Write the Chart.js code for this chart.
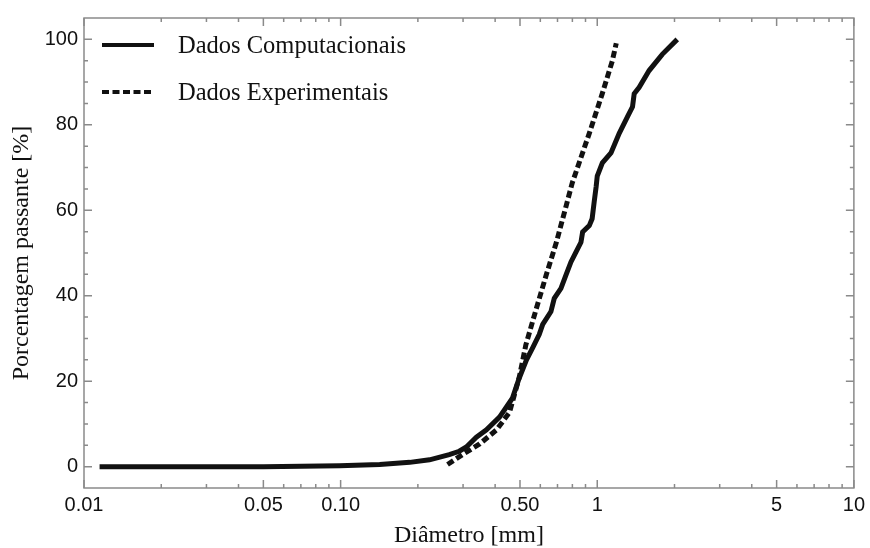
<!DOCTYPE html>
<html>
<head>
<meta charset="utf-8">
<script src="https://cdn.jsdelivr.net/npm/chart.js@4.4.1/dist/chart.umd.min.js"></script>
<style>
    html, body { margin: 0; padding: 0; background: #fff; }
    .chartContainer { width: 870px; height: 548px; }
</style>
</head>
<body>
<div class="chartContainer"><canvas id="myChart"></canvas></div>
<script>
// Dados (diâmetro em mm, % passante)
const compDiametro = [0.0115, 0.05, 0.099, 0.142, 0.186, 0.222, 0.265, 0.29, 0.309, 0.338, 0.37, 0.416, 0.467, 0.495, 0.53, 0.56, 0.594, 0.613, 0.66, 0.68, 0.722, 0.755, 0.79, 0.826, 0.864, 0.877, 0.931, 0.955, 0.973, 0.99, 1.0, 1.047, 1.131, 1.218, 1.312, 1.372, 1.393, 1.457, 1.593, 1.792, 2.05];
const compPassante = [0, 0, 0.2, 0.5, 1.0, 1.6, 2.8, 3.6, 4.6, 6.9, 8.6, 11.6, 16, 20.5, 25, 27.8, 30.9, 33.3, 36.3, 39.4, 41.7, 44.8, 47.9, 50.2, 52.5, 54.9, 56.4, 58, 62, 65.5, 68, 71.1, 73.4, 78, 81.9, 84.2, 87.3, 88.8, 92.7, 96.5, 100];

const expDiametro = [0.261, 0.298, 0.348, 0.405, 0.455, 0.497, 0.527, 0.579, 0.633, 0.693, 0.757, 0.799, 0.931, 1.046, 1.144, 1.186];
const expPassante = [0.5, 2.8, 5.3, 8.6, 12.7, 21, 28.5, 37, 44.9, 52.5, 61.1, 66.4, 78, 87.3, 94.9, 99.1];

const xTickValues = [0.01, 0.05, 0.1, 0.5, 1, 5, 10];
const xTickLabels = ['0.01', '0.05', '0.10', '0.50', '1', '5', '10'];
const xMinorTicks = [0.02, 0.03, 0.04, 0.06, 0.07, 0.08, 0.09, 0.2, 0.3, 0.4, 0.6, 0.7, 0.8, 0.9, 2, 3, 4, 6, 7, 8, 9];
const yTickValues = [0, 20, 40, 60, 80, 100];
const yMinorTicks = [5, 10, 15, 25, 30, 35, 45, 50, 55, 65, 70, 75, 85, 90, 95];

const toPoints = (xs, ys) => xs.map((x, i) => ({ x: x, y: ys[i] }));

// moldura + marcas internas dos eixos
const framePlugin = {
    id: 'frame',
    beforeDatasetsDraw(chart) {
        const { ctx, chartArea: a, scales: { x, y } } = chart;
        ctx.save();
        ctx.strokeStyle = '#8a8a8a';
        ctx.lineWidth = 1.5;
        ctx.strokeRect(a.left, a.top, a.right - a.left, a.bottom - a.top);
        ctx.beginPath();
        const xt = (v, len) => {
            const px = x.getPixelForValue(v);
            ctx.moveTo(px, a.bottom); ctx.lineTo(px, a.bottom - len);
            ctx.moveTo(px, a.top); ctx.lineTo(px, a.top + len);
        };
        const yt = (v, len) => {
            const py = y.getPixelForValue(v);
            ctx.moveTo(a.left, py); ctx.lineTo(a.left + len, py);
            ctx.moveTo(a.right, py); ctx.lineTo(a.right - len, py);
        };
        xTickValues.forEach(v => xt(v, 8));
        xMinorTicks.forEach(v => xt(v, 4));
        yTickValues.forEach(v => yt(v, 8));
        yMinorTicks.forEach(v => yt(v, 4));
        ctx.stroke();
        ctx.restore();
    }
};

// legenda dentro da área do gráfico
const legendPlugin = {
    id: 'innerLegend',
    afterDatasetsDraw(chart) {
        const { ctx, chartArea: a } = chart;
        ctx.save();
        ctx.font = '24.5px "Liberation Serif", "Times New Roman", serif';
        ctx.fillStyle = '#111';
        ctx.textBaseline = 'alphabetic';
        chart.data.datasets.forEach((ds, i) => {
            const lineY = a.top + 27 + i * 47;
            ctx.beginPath();
            ctx.lineWidth = 4;
            ctx.strokeStyle = '#111';
            ctx.setLineDash(ds.borderDash || []);
            ctx.moveTo(a.left + 18, lineY);
            ctx.lineTo(a.left + 70, lineY);
            ctx.stroke();
            ctx.setLineDash([]);
            ctx.fillText(ds.label, a.left + 94, lineY + 8);
        });
        ctx.restore();
    }
};

const ctx = document.getElementById('myChart').getContext('2d');
new Chart(ctx, {
    type: 'line',
    data: {
        datasets: [{
            label: 'Dados Computacionais',
            data: toPoints(compDiametro, compPassante),
            borderColor: '#111',
            borderWidth: 5,
            pointRadius: 0,
            tension: 0,
            fill: false
        }, {
            label: 'Dados Experimentais',
            data: toPoints(expDiametro, expPassante),
            borderColor: '#111',
            borderWidth: 5,
            borderDash: [7, 3.5],
            borderCapStyle: 'butt',
            pointRadius: 0,
            tension: 0,
            fill: false
        }]
    },
    options: {
        responsive: true,
        maintainAspectRatio: false,
        animation: false,
        layout: { padding: { top: 13, right: 16, left: 0, bottom: 0 } },
        plugins: {
            legend: { display: false },
            tooltip: { enabled: false }
        },
        scales: {
            x: {
                type: 'logarithmic',
                min: 0.01,
                max: 10,
                grid: { display: false, drawTicks: false },
                border: { display: false },
                afterBuildTicks: scale => { scale.ticks = xTickValues.map(v => ({ value: v })); },
                afterFit: scale => { scale.height = 60; },
                ticks: {
                    autoSkip: false,
                    maxRotation: 0,
                    padding: 5,
                    color: '#111',
                    font: { family: '"Liberation Sans", Arial, sans-serif', size: 20 },
                    callback: (value, index) => xTickLabels[index]
                },
                title: {
                    display: true,
                    text: 'Diâmetro [mm]',
                    color: '#111',
                    font: { family: '"Liberation Serif", "Times New Roman", serif', size: 24, lineHeight: 1 },
                    padding: { top: 0, bottom: 0 }
                }
            },
            y: {
                type: 'linear',
                min: -5,
                max: 105,
                grid: { display: false, drawTicks: false },
                border: { display: false },
                afterBuildTicks: scale => { scale.ticks = yTickValues.map(v => ({ value: v })); },
                afterFit: scale => { scale.width = 84; },
                ticks: {
                    padding: 6,
                    color: '#111',
                    font: { family: '"Liberation Sans", Arial, sans-serif', size: 20 }
                },
                title: {
                    display: true,
                    text: 'Porcentagem passante [%]',
                    color: '#111',
                    font: { family: '"Liberation Serif", "Times New Roman", serif', size: 24, lineHeight: 1 },
                    padding: { top: 10, bottom: 0 }
                }
            }
        }
    },
    plugins: [framePlugin, legendPlugin]
});
</script>
</body>
</html>
